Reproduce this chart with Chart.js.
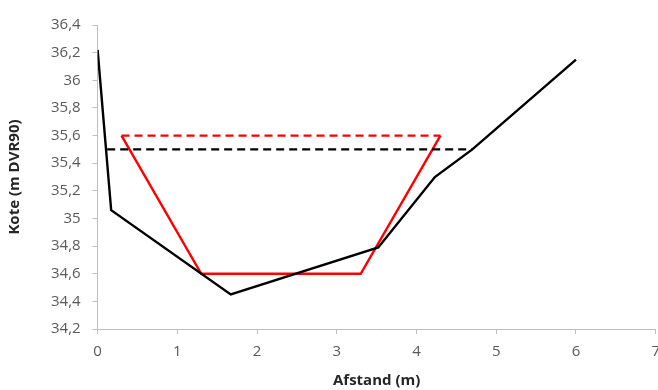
<!DOCTYPE html>
<html>
<head>
<meta charset="utf-8">
<script src="https://cdn.jsdelivr.net/npm/chart.js@4"></script>
<style>
  html, body { margin: 0; padding: 0; background: #fff; overflow: hidden; }
  /* a bit wider than the window so the x range reaches the right edge */
  #wrap { width: 669px; height: 390px; }
</style>
</head>
<body>
<div id="wrap"><canvas id="chart"></canvas></div>
<script>
// terrain profile (black)
const terrainX = [0, 0.17, 1.67, 3.52, 4.23, 4.7, 6.0];
const terrainY = [36.22, 35.06, 34.45, 34.79, 35.3, 35.5, 36.15];
// water level (black dashed)
const waterX = [0.12, 4.7];
const waterY = [35.5, 35.5];
// design profile (red)
const designX = [0.3, 1.3, 3.3, 4.3];
const designY = [35.6, 34.6, 34.6, 35.6];
// design level (red dashed)
const designLevelX = [0.3, 4.3];
const designLevelY = [35.6, 35.6];

const pts = (xs, ys) => xs.map((x, i) => ({ x: x, y: ys[i] }));

const tickColor = "#595959";
const axisColor = "#bfbfbf";
const font = "'Open Sans', 'Liberation Sans', sans-serif";

new Chart(document.getElementById("chart"), {
  type: "scatter",
  data: {
    datasets: [
      {
        data: pts(waterX, waterY),
        showLine: true,
        borderColor: "#000",
        borderWidth: 2.2,
        borderDash: [8, 5],
        pointRadius: 0,
      },
      {
        data: pts(designLevelX, designLevelY),
        showLine: true,
        borderColor: "#ff0000",
        borderWidth: 2.2,
        borderDash: [8, 5],
        pointRadius: 0,
      },
      {
        data: pts(terrainX, terrainY),
        showLine: true,
        borderColor: "#000",
        borderWidth: 2.4,
        pointRadius: 0,
      },
      {
        data: pts(designX, designY),
        showLine: true,
        borderColor: "#ff0000",
        borderWidth: 2.4,
        pointRadius: 0,
      },
    ],
  },
  options: {
    responsive: true,
    maintainAspectRatio: false,
    animation: false,
    layout: { padding: { top: 25, right: 0, left: 6, bottom: 0 } },
    plugins: {
      legend: { display: false },
      tooltip: { enabled: false },
    },
    scales: {
      x: {
        type: "linear",
        min: 0,
        max: 7,
        ticks: {
          stepSize: 1,
          color: tickColor,
          font: { family: font, size: 15 },
          padding: 9,
        },
        grid: {
          drawOnChartArea: false,
          drawTicks: true,
          tickLength: 5,
          color: axisColor,
        },
        border: { color: axisColor, width: 1 },
        title: {
          display: true,
          text: "Afstand (m)",
          color: "#262626",
          font: { family: font, size: 15, weight: "bold" },
          padding: { top: 2, bottom: 0 },
        },
      },
      y: {
        min: 34.2,
        max: 36.4,
        ticks: {
          stepSize: 0.2,
          color: tickColor,
          font: { family: font, size: 15 },
          padding: 12,
          callback: (v) => String(Number(v.toFixed(1))).replace(".", ","),
        },
        grid: {
          drawOnChartArea: false,
          drawTicks: true,
          tickLength: 5,
          color: axisColor,
        },
        border: { color: axisColor, width: 1 },
        title: {
          display: true,
          text: "Kote (m DVR90)",
          color: "#262626",
          font: { family: font, size: 15, weight: "bold" },
          padding: { top: 0, bottom: 15 },
        },
      },
    },
  },
});
</script>
</body>
</html>
